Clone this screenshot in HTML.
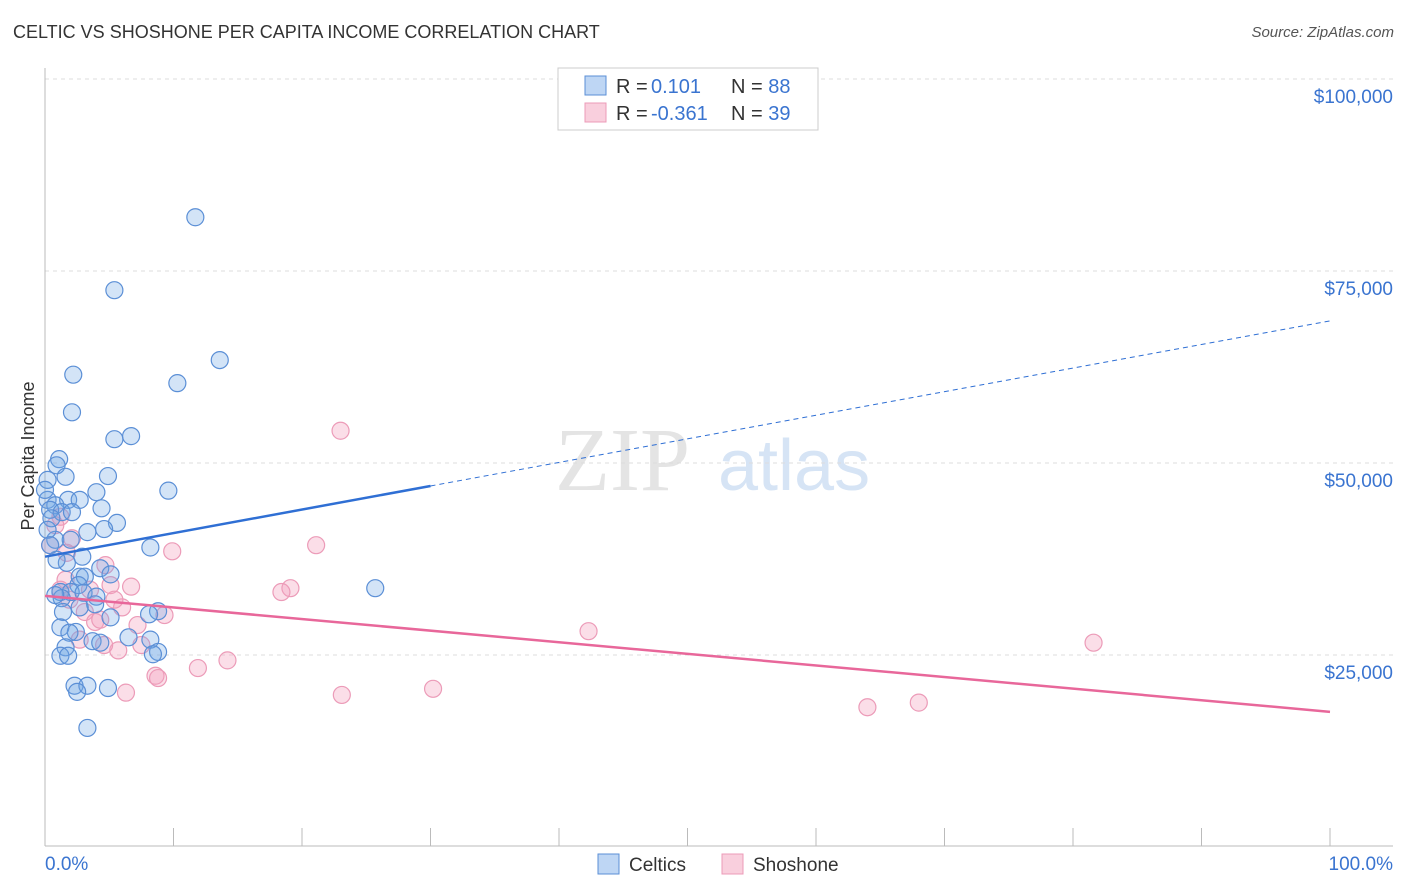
<!DOCTYPE html>
<html><head><meta charset="utf-8"><style>
body{margin:0;background:#fff;font-family:"Liberation Sans",sans-serif;}
#wrap{position:relative;width:1406px;height:892px;overflow:hidden}
.t{position:absolute;white-space:nowrap}
</style></head><body>
<div id="wrap">
<div class="t" style="left:13px;top:22px;font-size:18px;color:#333">CELTIC VS SHOSHONE PER CAPITA INCOME CORRELATION CHART</div>
<div class="t" style="right:12px;top:24px;font-size:15px;color:#555;font-style:italic">Source: ZipAtlas.com</div>
<svg id="chart" width="1406" height="892" style="position:absolute;left:0;top:0"></svg>
</div>
<script>
const yTicks=[25000,50000,75000,100000];
const yTickLabels=["$25,000","$50,000","$75,000","$100,000"];
const celticX=[11.7,5.4,13.6,10.3,2.2,2.1,6.7,5.4,1.1,0.9,4.9,1.6,0.2,4.0,9.6,1.8,2.7,0.2,0.8,0.4,1.3,2.1,4.4,5.6,4.6,3.3,0.5,8.2,0.8,2.0,2.9,1.7,0.9,4.3,5.1,2.7,3.1,2.6,25.7,1.2,2.0,3.0,4.0,1.3,3.9,8.8,8.1,1.4,2.7,5.1,1.2,2.4,1.9,6.5,8.2,3.7,4.3,1.6,8.8,8.4,1.2,1.8,2.3,3.3,4.9,2.5,3.3,0,0.2,0.4,0.8];
const celticY=[82000,72500,63400,60400,61500,56600,53500,53100,50500,49700,48300,48200,47800,46200,46400,45200,45200,45200,44500,43900,43600,43600,44100,42200,41400,41000,42800,39000,40000,40000,37800,37000,37400,36300,35500,35200,35200,34100,33700,33200,33200,33100,32600,32400,31600,30700,30300,30600,31200,29900,28600,28000,27900,27300,27000,26800,26600,26000,25400,25100,24900,24900,21000,21000,20700,20200,15500,46500,41300,39300,32800];
const shoshoneX=[23.0,21.1,9.9,1.2,2.1,1.7,4.7,19.1,18.4,6.7,5.1,1.2,6.0,9.3,3.1,3.9,7.2,42.3,81.6,5.7,4.6,7.5,8.6,8.8,11.9,14.2,6.3,23.1,30.2,64,68,0.4,3.5,1.9,0.8,2.7,4.3,1.6,5.4];
const shoshoneY=[54200,39300,38500,43000,40200,38300,36700,33700,33200,33900,34100,33500,31200,30200,30600,29300,28900,28100,26600,25600,26300,26300,22300,22000,23300,24300,20100,19800,20600,18200,18800,39300,33500,32200,41900,27000,29600,34800,32200];
const celticTrend=[37800,68500];
const shoshoneTrend=[32700,17600];

const svg=document.getElementById('chart');
const NS='http://www.w3.org/2000/svg';
const X0=45,X1=1330,Y0=847,YPER=192/25000;
const sx=v=>X0+(X1-X0)*v/100;
const sy=v=>Y0-v*YPER;
function mk(tag,attrs,parent){const e=document.createElementNS(NS,tag);for(const k in attrs)e.setAttribute(k,attrs[k]);(parent||svg).appendChild(e);return e;}

// watermark
let w=mk('text',{x:555,y:490,'font-size':90,'font-family':'Liberation Serif,serif',fill:'#e4e4e4'});w.textContent='ZIP';


let w2=mk('text',{x:718,y:490,'font-size':72,'font-family':'Liberation Sans,sans-serif',fill:'#d6e4f5'});w2.textContent='atlas';



// grid + y labels
yTicks.forEach((t,i)=>{
  const g=mk('line',{x1:X0,x2:1393,y1:sy(t),y2:sy(t),stroke:'#ddd','stroke-dasharray':'4,4'});
  
  
  const l=mk('text',{x:1393,y:sy(t)+24,'text-anchor':'end','font-size':19,fill:'#3a74d0'});l.textContent=yTickLabels[i];
  
  
});
// axes
let ax=mk('line',{x1:X0,x2:X0,y1:68,y2:846,stroke:'#bbb'});


let bx=mk('line',{x1:X0,x2:1393,y1:846,y2:846,stroke:'#bbb'});


for(let i=0;i<=10;i++){
  const tk=mk('line',{x1:sx(i*10),x2:sx(i*10),y1:828,y2:846,stroke:'#bbb'});
  
  
}
let xl=mk('text',{x:45,y:870,'font-size':19,fill:'#3a74d0'});xl.textContent='0.0%';


let xr=mk('text',{x:1393,y:870,'font-size':19,fill:'#3a74d0','text-anchor':'end'});xr.textContent='100.0%';


let yt=mk('text',{x:34,y:456,'font-size':18,fill:'#333','text-anchor':'middle',transform:'rotate(-90 34 456)'});yt.textContent='Per Capita Income';



// points
function pts(xs,ys,fill,stroke,name){xs.forEach((x,i)=>{
  const c=mk('circle',{cx:sx(x),cy:sy(ys[i]),r:8.5,fill:fill,stroke:stroke,'stroke-width':1.2});
  
  
});}
pts(shoshoneX,shoshoneY,'rgba(244,160,188,0.35)','#ec9bb8','shoshone-point');
pts(celticX,celticY,'rgba(110,165,230,0.3)','#5b8fd6','celtic-point');

// trends
const cAt=p=>celticTrend[0]+(celticTrend[1]-celticTrend[0])*p/100;
let t1=mk('line',{x1:sx(0),y1:sy(cAt(0)),x2:sx(30),y2:sy(cAt(30)),stroke:'#2f6fd4','stroke-width':2.5});


let t2=mk('line',{x1:sx(30),y1:sy(cAt(30)),x2:sx(100),y2:sy(cAt(100)),stroke:'#2f6fd4','stroke-width':1,'stroke-dasharray':'5,4'});


let t3=mk('line',{x1:sx(0),y1:sy(shoshoneTrend[0]),x2:sx(100),y2:sy(shoshoneTrend[1]),stroke:'#e8679a','stroke-width':2.5});



// stats legend
let lg=mk('rect',{x:558,y:68,width:260,height:62,fill:'#fff',stroke:'#ccc'});


[[76,'rgba(110,165,230,0.45)','#5b8fd6',' 0.101','88'],[103,'rgba(244,160,188,0.5)','#ec9bb8','-0.361','39']].forEach((r,i)=>{
  const sw=mk('rect',{x:585,y:r[0],width:21,height:19,fill:r[1],stroke:r[2]});
  
  
  const tx=mk('text',{x:616,y:r[0]+17,'font-size':20,fill:'#333'});
  tx.innerHTML='R = <tspan fill="#3a74d0" x="651">'+r[3]+'</tspan><tspan x="731">N = </tspan><tspan fill="#3a74d0">'+r[4]+'</tspan>';
  
  
});

// bottom legend
[[598,'rgba(110,165,230,0.45)','#5b8fd6','Celtics',629],[722,'rgba(244,160,188,0.5)','#ec9bb8','Shoshone',753]].forEach(r=>{
  const sw=mk('rect',{x:r[0],y:854,width:21,height:20,fill:r[1],stroke:r[2]});
  
  
  const tx=mk('text',{x:r[4],y:871,'font-size':19,fill:'#333'});tx.textContent=r[3];
  
  
});
</script>
</body></html>
